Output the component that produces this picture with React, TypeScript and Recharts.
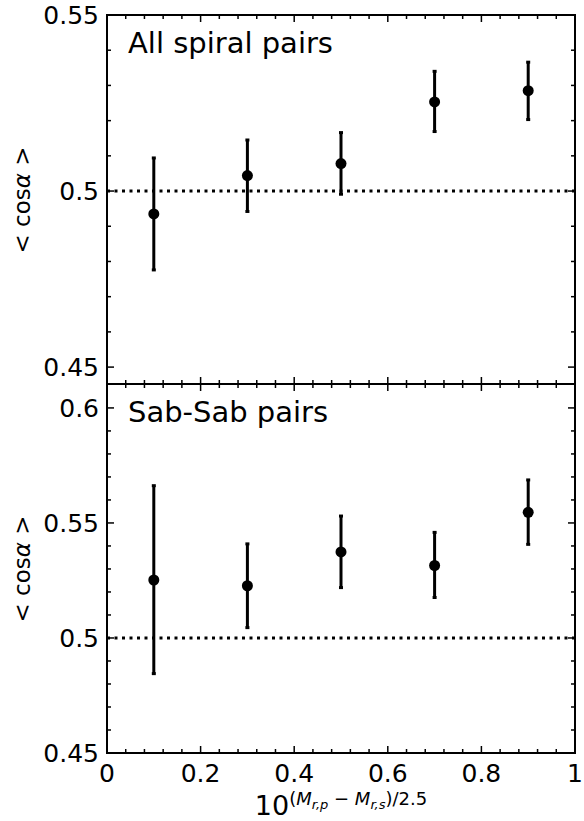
import React from "react";
import {
  ScatterChart,
  Scatter,
  XAxis,
  YAxis,
  ErrorBar,
  ReferenceLine,
  ReferenceArea,
} from "recharts";

// bin centres of the luminosity ratio
const xPos = [0.1, 0.3, 0.5, 0.7, 0.9];

// All spiral pairs: mean <cos a> with lower / upper ends of the error bar
const allMean = [0.4935, 0.5044, 0.5078, 0.5253, 0.5285];
const allLow = [0.4776, 0.4942, 0.4991, 0.5169, 0.5203];
const allHigh = [0.5094, 0.5145, 0.5166, 0.534, 0.5366];

// Sab-Sab pairs
const sabMean = [0.5252, 0.5227, 0.5374, 0.5315, 0.5546];
const sabLow = [0.4845, 0.5045, 0.5219, 0.5176, 0.5407];
const sabHigh = [0.5662, 0.5409, 0.553, 0.5459, 0.5687];

const xTicks = [
  0, 0.04, 0.08, 0.12, 0.16, 0.2, 0.24, 0.28, 0.32, 0.36, 0.4, 0.44, 0.48,
  0.52, 0.56, 0.6, 0.64, 0.68, 0.72, 0.76, 0.8, 0.84, 0.88, 0.92, 0.96, 1,
];
const xMajor = [0, 0.2, 0.4, 0.6, 0.8, 1];

const topYTicks = [0.45, 0.46, 0.47, 0.48, 0.49, 0.5, 0.51, 0.52, 0.53, 0.54, 0.55];
const botYTicks = [
  0.45, 0.46, 0.47, 0.48, 0.49, 0.5, 0.51, 0.52, 0.53, 0.54, 0.55, 0.56, 0.57,
  0.58, 0.59, 0.6,
];
const yMajor = [0.45, 0.5, 0.55, 0.6];

const topDomain: [number, number] = [0.4452, 0.55];
const botDomain: [number, number] = [0.45, 0.6104];

const FONT = "DejaVu Sans";
const PLOT_W = 468;
const PLOT_H = 369;
const GAP = 8;

const isMajor = (v: number, list: number[]) =>
  list.some((m) => Math.abs(m - v) < 1e-6);

function toRows(mean: number[], low: number[], high: number[]) {
  return xPos.map((x, i) => ({
    x,
    y: mean[i],
    err: [mean[i] - low[i], high[i] - mean[i]],
  }));
}

function YTick(props: any) {
  const { x, y, payload } = props;
  const ax = x + GAP;
  const major = isMajor(payload.value, yMajor);
  const len = major ? 7 : 4;
  return (
    <g>
      <line x1={ax} x2={ax + len} y1={y} y2={y} stroke="#000" strokeWidth={1.5} />
      <line
        x1={ax + PLOT_W}
        x2={ax + PLOT_W - len}
        y1={y}
        y2={y}
        stroke="#000"
        strokeWidth={1.5}
      />
      {major && (
        <text
          x={x}
          y={y + 9}
          textAnchor="end"
          fontSize={25}
          fontFamily={FONT}
          fill="#000"
        >
          {String(payload.value)}
        </text>
      )}
    </g>
  );
}

function makeXTick(showLabels: boolean) {
  return function XTick(props: any) {
    const { x, y, payload } = props;
    const ay = y - GAP;
    const major = isMajor(payload.value, xMajor);
    const len = major ? 7 : 4;
    return (
      <g>
        <line x1={x} x2={x} y1={ay} y2={ay - len} stroke="#000" strokeWidth={1.5} />
        <line
          x1={x}
          x2={x}
          y1={ay - PLOT_H}
          y2={ay - PLOT_H + len}
          stroke="#000"
          strokeWidth={1.5}
        />
        {showLabels && major && (
          <text
            x={x}
            y={ay + 29}
            textAnchor="middle"
            fontSize={25}
            fontFamily={FONT}
            fill="#000"
          >
            {String(payload.value)}
          </text>
        )}
      </g>
    );
  };
}

const Dot = (p: any) => <circle cx={p.cx} cy={p.cy} r={5.5} fill="#000" />;

interface PanelProps {
  rows: { x: number; y: number; err: number[] }[];
  domain: [number, number];
  yTicks: number[];
  height: number;
  top: number;
  xAxisHeight: number;
  showXLabels: boolean;
}

function Panel({ rows, domain, yTicks, height, top, xAxisHeight, showXLabels }: PanelProps) {
  return (
    <div style={{ position: "absolute", left: 0, top }}>
      <ScatterChart
        width={584}
        height={height}
        margin={{ top: top === 0 ? 15 : 0, right: 9, left: 0, bottom: 0 }}
      >
        <XAxis
          xAxisId={0}
          type="number"
          dataKey="x"
          domain={[0, 1]}
          ticks={xTicks}
          interval={0}
          allowDataOverflow
          height={xAxisHeight}
          axisLine={false}
          tickLine={false}
          tickSize={0}
          tickMargin={GAP}
          tick={makeXTick(showXLabels)}
        />
        <YAxis
          yAxisId={0}
          type="number"
          dataKey="y"
          domain={domain}
          ticks={yTicks}
          interval={0}
          allowDataOverflow
          width={107}
          axisLine={false}
          tickLine={false}
          tickSize={0}
          tickMargin={GAP}
          tick={YTick}
        />
        <ReferenceLine
          y={0.5}
          stroke="#000"
          strokeWidth={3}
          strokeDasharray="3 4.5"
        />
        <ReferenceArea
          x1={0}
          x2={1}
          y1={domain[0]}
          y2={domain[1]}
          fill="none"
          fillOpacity={0}
          stroke="#000"
          strokeWidth={2}
          ifOverflow="visible"
        />
        <Scatter data={rows} shape={Dot} isAnimationActive={false}>
          <ErrorBar
            dataKey="err"
            direction="y"
            width={2}
            stroke="#000"
            strokeWidth={3}
          />
        </Scatter>
      </ScatterChart>
    </div>
  );
}

export default function App() {
  const topRows = toRows(allMean, allLow, allHigh);
  const botRows = toRows(sabMean, sabLow, sabHigh);

  return (
    <div
      style={{
        position: "absolute",
        left: 0,
        top: 0,
        width: 584,
        height: 821,
        background: "#fff",
        fontFamily: FONT,
      }}
    >
      <Panel
        rows={topRows}
        domain={topDomain}
        yTicks={topYTicks}
        height={400}
        top={0}
        xAxisHeight={16}
        showXLabels={false}
      />
      <Panel
        rows={botRows}
        domain={botDomain}
        yTicks={botYTicks}
        height={437}
        top={384}
        xAxisHeight={68}
        showXLabels={true}
      />
      <svg
        width={584}
        height={821}
        style={{ position: "absolute", left: 0, top: 0, pointerEvents: "none" }}
      >
        <text x={128} y={53} fontSize={29} fontFamily={FONT} fill="#000">
          All spiral pairs
        </text>
        <text x={128} y={422} fontSize={29} fontFamily={FONT} fill="#000">
          Sab-Sab pairs
        </text>
        <text
          transform="translate(30,200) rotate(-90)"
          textAnchor="middle"
          fontSize={23}
          fontFamily={FONT}
          fill="#000"
        >
          {"< cos"}
          <tspan fontStyle="italic">α</tspan>
          {" >"}
        </text>
        <text
          transform="translate(30,569) rotate(-90)"
          textAnchor="middle"
          fontSize={23}
          fontFamily={FONT}
          fill="#000"
        >
          {"< cos"}
          <tspan fontStyle="italic">α</tspan>
          {" >"}
        </text>
        <text x={341} y={815} textAnchor="middle" fontFamily={FONT} fill="#000">
          <tspan fontSize={27}>10</tspan>
          <tspan fontSize={18} dy={-10}>(</tspan>
          <tspan fontSize={18} fontStyle="italic">M</tspan>
          <tspan fontSize={13} fontStyle="italic" dy={4}>r,p</tspan>
          <tspan fontSize={18} dy={-4}>{" − "}</tspan>
          <tspan fontSize={18} fontStyle="italic">M</tspan>
          <tspan fontSize={13} fontStyle="italic" dy={4}>r,s</tspan>
          <tspan fontSize={18} dy={-4}>)/2.5</tspan>
        </text>
      </svg>
    </div>
  );
}
